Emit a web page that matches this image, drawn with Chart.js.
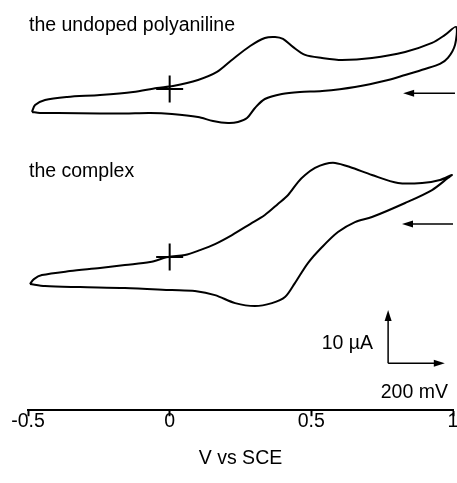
<!DOCTYPE html>
<html>
<head>
<meta charset="utf-8">
<script src="https://cdn.jsdelivr.net/npm/chart.js@4.4.1/dist/chart.umd.min.js"></script>
<style>
  html, body { margin: 0; padding: 0; background: #fff; }
  #wrap { width: 457px; height: 483px; }
</style>
</head>
<body>
<div id="wrap"><canvas id="cv" width="457" height="483"></canvas></div>
<script>
// potential (V vs SCE) and current (uA, relative to the + mark), one closed sweep each
const undopedVoltage = [-0.486, -0.475, -0.440, -0.362, -0.246, -0.129, -0.045, 0.012, 0.100, 0.167, 0.224, 0.284,
  0.336, 0.372, 0.400, 0.435, 0.478, 0.538, 0.608, 0.714, 0.831, 0.926, 0.972, 1.011,
  1.007, 0.982, 0.954, 0.901, 0.831, 0.771, 0.654, 0.538, 0.460, 0.396, 0.336, 0.301,
  0.273, 0.241, 0.206, 0.153, 0.100, 0.008, -0.069, -0.158, -0.246, -0.394, -0.458, -0.486];
const undopedCurrent = [-4.31, -3.0, -2.06, -1.5, -1.13, -0.56, 0.19, 0.56, 1.69, 3.19, 5.63, 8.06,
  9.56, 9.75, 9.38, 7.88, 6.38, 5.81, 5.44, 5.81, 6.94, 8.63, 10.13, 11.63,
  8.25, 5.81, 4.69, 3.75, 2.63, 1.69, 0.38, -0.38, -0.56, -0.94, -1.88, -3.56,
  -5.44, -6.19, -6.38, -6.0, -5.25, -4.69, -4.5, -4.59, -4.59, -4.5, -4.5, -4.31];

const complexVoltage = [-0.493, -0.479, -0.451, -0.352, -0.246, -0.158, -0.069, -0.006, 0.054, 0.107, 0.160, 0.220,
  0.284, 0.336, 0.382, 0.418, 0.453, 0.478, 0.513, 0.548, 0.584, 0.636, 0.714, 0.806, 0.891, 0.954, 0.996,
  0.982, 0.926, 0.831, 0.714, 0.654, 0.594, 0.538, 0.488, 0.442, 0.407, 0.361, 0.301, 0.231, 0.160,
  0.089, 0.008, -0.158, -0.316, -0.440, -0.493];
const complexCurrent = [-5.06, -4.13, -3.38, -2.63, -2.06, -1.5, -0.94, 0, 0.38, 1.31, 2.44, 4.13,
  6.19, 7.88, 9.94, 11.63, 14.06, 15.38, 16.69, 17.44, 17.63, 16.88, 15.38, 13.88, 13.88, 14.44, 15.38,
  14.81, 12.56, 10.13, 7.5, 6.56, 4.69, 1.88, -1.13, -4.88, -7.5, -8.63, -9.19, -8.63, -7.13,
  -6.38, -6.19, -5.81, -5.63, -5.44, -5.06];

// where each trace sits on the shared (hidden) current axis, uA
const undopedOffset = 60.2;
const complexOffset = 28.7;

const xTicks = [-0.5, 0, 0.5, 1];
const axisTitle = 'V vs SCE';
const traceTitles = ['the undoped polyaniline', 'the complex'];
const scaleLabels = ['10 µA', '200 mV'];

const FONT_FAMILY = "'Liberation Sans', Arial, Helvetica, sans-serif";
const FONT_SIZE = 19.5;

function toPoints(volts, amps, offset) {
  return volts.map((v, i) => ({ x: v, y: amps[i] + offset }));
}

function arrow(ctx, x1, y1, x2, y2, len, half) {
  const a = Math.atan2(y2 - y1, x2 - x1);
  ctx.beginPath();
  ctx.moveTo(x1, y1);
  ctx.lineTo(x2 - Math.cos(a) * len * 0.6, y2 - Math.sin(a) * len * 0.6);
  ctx.stroke();
  ctx.beginPath();
  ctx.moveTo(x2, y2);
  ctx.lineTo(x2 - Math.cos(a) * len - Math.sin(a) * half, y2 - Math.sin(a) * len + Math.cos(a) * half);
  ctx.lineTo(x2 - Math.cos(a) * len + Math.sin(a) * half, y2 - Math.sin(a) * len - Math.cos(a) * half);
  ctx.closePath();
  ctx.fill();
}

const annotations = {
  id: 'annotations',
  afterDraw(chart) {
    const { ctx, scales: { x, y } } = chart;
    ctx.save();
    ctx.fillStyle = '#000';
    ctx.strokeStyle = '#000';
    ctx.font = FONT_SIZE + 'px ' + FONT_FAMILY;

    // trace names
    ctx.textAlign = 'left';
    ctx.textBaseline = 'alphabetic';
    ctx.fillText(traceTitles[0], x.getPixelForValue(-0.5) + 1, y.getPixelForValue(71.1));
    ctx.fillText(traceTitles[1], x.getPixelForValue(-0.5) + 1, y.getPixelForValue(43.7));

    // sweep direction arrows
    ctx.lineWidth = 1.5;
    arrow(ctx, x.getPixelForValue(1.007), y.getPixelForValue(59.4), x.getPixelForValue(0.824), y.getPixelForValue(59.4), 11, 3.5);
    arrow(ctx, x.getPixelForValue(1.0), y.getPixelForValue(34.9), x.getPixelForValue(0.82), y.getPixelForValue(34.9), 11, 3.5);

    // scale bar: 10 uA up, 200 mV right
    const cx = x.getPixelForValue(0.771), cy = y.getPixelForValue(8.8);
    arrow(ctx, cx, cy, cx, y.getPixelForValue(18.8), 11, 3.5);
    arrow(ctx, cx, cy, x.getPixelForValue(0.971), cy, 11, 3.5);
    ctx.textAlign = 'right';
    ctx.textBaseline = 'middle';
    ctx.fillText(scaleLabels[0], x.getPixelForValue(0.718), y.getPixelForValue(12.5));
    ctx.fillText(scaleLabels[1], x.getPixelForValue(0.982), y.getPixelForValue(3.2));
    ctx.restore();
  }
};

const lineStyle = { showLine: true, borderColor: '#000', borderWidth: 2, pointRadius: 0, tension: 0.3, fill: false, clip: false };
const crossStyle = { showLine: false, pointStyle: 'cross', pointRadius: 13.5, pointBorderWidth: 2, pointBorderColor: '#000', clip: false };

new Chart(document.getElementById('cv'), {
  type: 'scatter',
  data: {
    datasets: [
      Object.assign({ label: traceTitles[0], data: toPoints(undopedVoltage, undopedCurrent, undopedOffset) }, lineStyle),
      Object.assign({ label: traceTitles[1], data: toPoints(complexVoltage, complexCurrent, complexOffset) }, lineStyle),
      Object.assign({ label: 'origin', data: [{ x: 0, y: undopedOffset }, { x: 0, y: complexOffset }] }, crossStyle)
    ]
  },
  plugins: [annotations],
  options: {
    responsive: false, animation: false, events: [], devicePixelRatio: 1,
    layout: { autoPadding: false, padding: { left: 28, right: 4, top: 10, bottom: 10 } },
    plugins: { legend: { display: false }, tooltip: { enabled: false } },
    scales: {
      x: {
        type: 'linear', min: -0.5, max: 1,
        afterBuildTicks: s => { s.ticks = xTicks.map(v => ({ value: v })); },
        afterFit: s => { s.paddingLeft = 0; s.paddingRight = 0; },
        border: { display: true, color: '#000', width: 2 },
        grid: { drawOnChartArea: false, drawTicks: true, tickLength: 6, tickColor: '#000', tickWidth: 2 },
        ticks: { color: '#000', font: { family: FONT_FAMILY, size: FONT_SIZE }, padding: -6, maxRotation: 0, autoSkip: false, callback: v => String(v) },
        title: { display: true, text: axisTitle, color: '#000', font: { family: FONT_FAMILY, size: FONT_SIZE }, padding: { top: 19, bottom: 3 } }
      },
      y: { display: false, min: 0, max: 75 }
    }
  }
});
</script>
</body>
</html>
